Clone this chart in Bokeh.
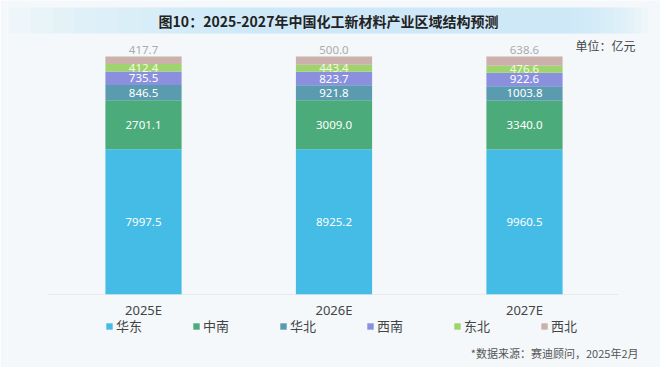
from bokeh.plotting import figure
from bokeh.models import (ColumnDataSource, FactorRange, Range1d, Label, LabelSet, BoxAnnotation,
                          Legend, LegendItem)
from bokeh.core.properties import value
from bokeh.embed import file_html
from bokeh.resources import INLINE
import pandas as pd

years = ["2025E", "2026E", "2027E"]
regions = ["华东", "中南", "华北", "西南", "东北", "西北"]
huadong = [7997.5, 8925.2, 9960.5]
zhongnan = [2701.1, 3009.0, 3340.0]
huabei = [846.5, 921.8, 1003.8]
xinan = [735.5, 823.7, 922.6]
dongbei = [412.4, 443.4, 476.6]
xibei = [417.7, 500.0, 638.6]
colors = ["#44BCE6", "#4CAB7B", "#5A9BAF", "#8A90DE", "#9FD46C", "#CBB0AC"]
label_colors = ["#FFFFFF", "#FFFFFF", "#FFFFFF", "#FFFFFF", "#F4FBE4", "#ABABAB"]

title_text = "图10：2025-2027年中国化工新材料产业区域结构预测"
unit_text = "单位：亿元"
source_text = "*数据来源：赛迪顾问，2025年2月"

series = [huadong, zhongnan, huabei, xinan, dongbei, xibei]
df = pd.DataFrame({r: v for r, v in zip(regions, series)}, index=years)
totals = df.sum(axis=1)
share = df.div(totals, axis=0)
cum_top = share.cumsum(axis=1)
cum_bot = cum_top - share

data = {"year": years}
for r in regions:
    data[r] = share[r].tolist()
source = ColumnDataSource(data)

BG = "#F4F8FB"
p = figure(width=660, height=367,
           x_range=FactorRange(*years, range_padding=0.214, range_padding_units="absolute"),
           y_range=Range1d(-0.3067, 1.2353), output_backend="svg", toolbar_location=None,
           background_fill_color=BG, border_fill_color=BG,
           min_border_left=7, min_border_right=0, min_border_top=0, min_border_bottom=0)
p.outline_line_color = None
p.grid.visible = False
p.xaxis.visible = False
p.yaxis.visible = False

# title banner: many faint layers to imitate a soft horizontal gradient
n_layers = 12
for k in range(n_layers):
    l = 8 + k * 22
    r = 648 - k * 7
    p.add_layout(BoxAnnotation(left=l, right=r, top=7, bottom=33, left_units="canvas",
                               right_units="canvas", top_units="canvas", bottom_units="canvas",
                               fill_color="#C9E8F6", fill_alpha=0.13, line_color=None))

# baseline
p.add_layout(BoxAnnotation(left=48, right=618, left_units="canvas", right_units="canvas",
                           bottom=0, top=0, fill_alpha=0, line_color="#DCDFE3", line_width=1))

renderers = p.vbar_stack(regions, x="year", width=0.4, source=source, color=colors,
                         line_color=None)

# value labels
for i, r in enumerate(regions):
    if r == "西北":
        ys = cum_top[r].tolist()
        off, base = 3, "bottom"
    else:
        ys = ((cum_top[r] + cum_bot[r]) / 2).tolist()
        off, base = 0, "middle"
    src = ColumnDataSource({"x": years, "y": ys, "t": ["%.1f" % v for v in df[r]]})
    p.add_layout(LabelSet(x="x", y="y", text="t", source=src, text_align="center",
                          text_baseline=base, y_offset=off, text_font=value("Noto Sans"),
                          text_font_size="11.5px", text_color=label_colors[i]))

# category labels on the categorical scale
cat_src = ColumnDataSource({"x": years, "y": [0] * len(years), "t": years})
p.add_layout(LabelSet(x="x", y="y", text="t", source=cat_src, text_align="center",
                      text_baseline="middle", y_offset=-15, text_font=value("Noto Sans"),
                      text_font_size="13px", text_color="#444444"))

leg = Legend(items=[LegendItem(label=r, renderers=[rd]) for r, rd in zip(regions, renderers)],
             orientation="horizontal", location=(98, 32), background_fill_alpha=0,
             border_line_color=None, glyph_width=8, glyph_height=8, label_standoff=3,
             label_height=14, spacing=50, padding=0, margin=0,
             label_text_font="Noto Sans CJK SC", label_text_font_size="13px",
             label_text_color="#444444")
p.add_layout(leg)

p.add_layout(Label(x=328, y=20, x_units="canvas", y_units="canvas", text=title_text,
                   text_align="center", text_baseline="middle", text_font="Noto Sans CJK SC",
                   text_font_size="14px", text_font_style="bold", text_color="#222222"))
p.add_layout(Label(x=635, y=45, x_units="canvas", y_units="canvas", text=unit_text,
                   text_align="right", text_baseline="middle", text_font="Noto Sans CJK SC",
                   text_font_size="12px", text_color="#444444"))
p.add_layout(Label(x=638, y=352, x_units="canvas", y_units="canvas", text=source_text,
                   text_align="right", text_baseline="middle", text_font="Noto Sans CJK SC",
                   text_font_size="11px", text_color="#555555"))

open("out.html", "w").write(file_html(p, INLINE))
